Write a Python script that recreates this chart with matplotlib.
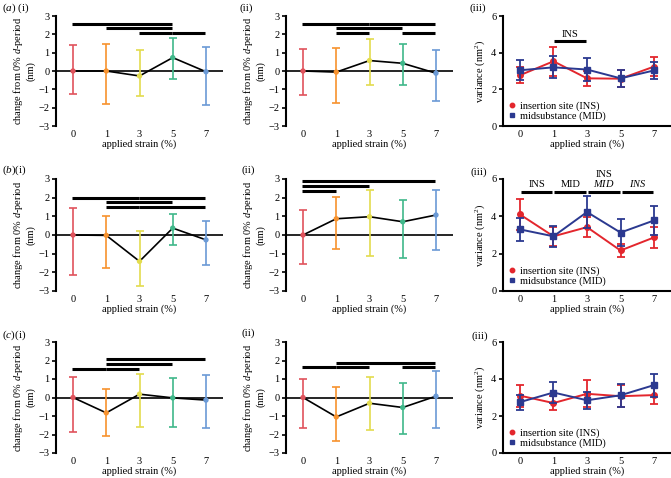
import matplotlib
matplotlib.use("Agg")
import matplotlib.pyplot as plt
from matplotlib.lines import Line2D

plt.rcParams['font.family'] = ['Liberation Serif', 'DejaVu Serif']
plt.rcParams['mathtext.fontset'] = 'custom'
plt.rcParams['mathtext.rm'] = 'Liberation Serif'
plt.rcParams['mathtext.it'] = 'Liberation Serif:italic'

# categories
strain_labels = ["0", "1", "3", "5", "7"]
point_colours = ["#e0535c", "#f7922e", "#e3dc4e", "#3fb88a", "#6b9ad6"]

# (a)(i) change in d-period, with bounds of the error bars
a1_mean = [0.0, 0.0, -0.27, 0.73, -0.04]
a1_low = [-1.25, -1.8, -1.36, -0.45, -1.85]
a1_high = [1.42, 1.45, 1.15, 1.78, 1.33]
a1_bars = [(0, 3, 2.58), (1, 3, 2.33), (2, 3, 2.09), (3, 4, 2.09)]

# (a)(ii)
a2_mean = [0.0, -0.06, 0.57, 0.42, -0.12]
a2_low = [-1.29, -1.72, -0.75, -0.78, -1.63]
a2_high = [1.2, 1.25, 1.77, 1.5, 1.14]
a2_bars = [(0, 2, 2.56), (2, 4, 2.56), (1, 3, 2.32), (1, 2, 2.06), (3, 4, 2.06)]

# (b)(i)
b1_mean = [0.0, -0.02, -1.41, 0.37, -0.26]
b1_low = [-2.16, -1.75, -2.73, -0.56, -1.6]
b1_high = [1.46, 1.01, 0.22, 1.1, 0.74]
b1_bars = [(0, 2, 2.0), (2, 4, 2.0), (1, 3, 1.75), (1, 2, 1.48), (2, 4, 1.48)]

# (b)(ii)
b2_mean = [0.0, 0.87, 0.98, 0.71, 1.07]
b2_low = [-1.54, -0.77, -1.1, -1.22, -0.82]
b2_high = [1.34, 2.06, 2.43, 1.85, 2.39]
b2_bars = [(0, 4, 2.87), (0, 2, 2.64), (0, 1, 2.35)]

# (c)(i)
c1_mean = [0.0, -0.83, 0.18, -0.02, -0.14]
c1_low = [-1.85, -2.06, -1.62, -1.58, -1.67]
c1_high = [1.1, 0.45, 1.27, 1.06, 1.22]
c1_bars = [(1, 4, 2.08), (1, 3, 1.83), (0, 1, 1.56), (1, 2, 1.56)]

# (c)(ii)
c2_mean = [0.0, -1.05, -0.31, -0.54, 0.07]
c2_low = [-1.65, -2.37, -1.74, -1.95, -1.63]
c2_high = [1.01, 0.58, 1.12, 0.8, 1.41]
c2_bars = [(1, 4, 1.88), (0, 1, 1.63), (1, 2, 1.63), (3, 4, 1.63)]

# (iii) variance, insertion site and midsubstance
a3_ins = [2.77, 3.53, 2.6, 2.58, 3.24]
a3_ins_err = [0.43, 0.8, 0.42, 0.45, 0.52]
a3_mid = [3.04, 3.2, 3.08, 2.6, 3.03]
a3_mid_err = [0.55, 0.6, 0.62, 0.45, 0.45]

b3_ins = [4.1, 2.93, 3.42, 2.17, 2.87]
b3_ins_err = [0.85, 0.5, 0.52, 0.37, 0.55]
b3_mid = [3.3, 2.93, 4.23, 3.13, 3.78]
b3_mid_err = [0.6, 0.55, 0.85, 0.72, 0.8]

c3_ins = [3.1, 2.7, 3.2, 3.07, 3.13]
c3_ins_err = [0.6, 0.38, 0.72, 0.6, 0.47]
c3_mid = [2.75, 3.27, 2.85, 3.12, 3.67]
c3_mid_err = [0.4, 0.57, 0.45, 0.62, 0.62]

ins_colour = "#e3262d"
mid_colour = "#2b3990"
FS = 7.5
W, H = 671, 478

fig = plt.figure(figsize=(W / 100, H / 100), dpi=100)


def px_axes(x0, x1, ytop, ybot):
    return fig.add_axes([x0 / W, 1 - ybot / H, (x1 - x0) / W, (ybot - ytop) / H])


def base_style(ax):
    ax.set_xlim(-0.5, 4.5)
    ax.set_xticks(range(len(strain_labels)))
    ax.set_xticklabels(strain_labels)
    ax.tick_params(axis='x', length=0, labelsize=FS, pad=3)
    ax.tick_params(axis='y', length=3, width=1.2, labelsize=FS, pad=2)
    for s in ['top', 'right']:
        ax.spines[s].set_visible(False)
    ax.spines['left'].set_linewidth(1.5)
    ax.set_xlabel("applied strain (%)", fontsize=FS, labelpad=0)


def dperiod_panel(ax, mean, low, high, bars):
    base_style(ax)
    ax.spines['bottom'].set_visible(False)
    ax.set_ylim(-3, 3)
    ax.set_yticks(range(-3, 4))
    ax.set_yticklabels(["\u22123", "\u22122", "\u22121", "0", "1", "2", "3"])
    ax.axhline(0, color='black', lw=1.2, zorder=1)
    x = range(len(mean))
    for i in x:
        ax.errorbar(i, mean[i], yerr=[[mean[i] - low[i]], [high[i] - mean[i]]],
                    fmt='none', ecolor=point_colours[i], elinewidth=1.2,
                    capsize=2.6, capthick=1.2, zorder=2)
    ax.plot(x, mean, color='black', lw=1.2, zorder=3)
    ax.scatter(x, mean, color=point_colours, s=8, zorder=4)
    for i, j, y in bars:
        ax.plot([i - 0.02, j - 0.02], [y, y], color='black', lw=2.2,
                solid_capstyle='butt', clip_on=False, zorder=5)
    ax.set_ylabel("change from 0% $d$-period\n(nm)", fontsize=FS, labelpad=2,
                  linespacing=1.1)


def variance_panel(ax, ins, ins_err, mid, mid_err):
    base_style(ax)
    ax.spines['bottom'].set_linewidth(1.5)
    ax.set_ylim(0, 6)
    ax.set_yticks([0, 2, 4, 6])
    x = range(len(ins))
    ax.errorbar(x, ins, yerr=ins_err, color=ins_colour, marker='o', ms=4,
                lw=1.4, elinewidth=1.3, capsize=2.6, capthick=1.3, zorder=3)
    ax.errorbar(x, mid, yerr=mid_err, color=mid_colour, marker='s', ms=4,
                lw=1.4, elinewidth=1.3, capsize=2.6, capthick=1.3, zorder=4)
    ax.set_ylabel("variance (nm$^2$)", fontsize=FS, labelpad=3)
    handles = [Line2D([], [], color=ins_colour, marker='o', ls='none', ms=3.2),
               Line2D([], [], color=mid_colour, marker='s', ls='none', ms=3.2)]
    ax.legend(handles, ["insertion site (INS)", "midsubstance (MID)"],
              loc='lower left', frameon=False, fontsize=FS, handlelength=0.8,
              handletextpad=0.4, borderaxespad=0.25, borderpad=0.2,
              labelspacing=0.05)


def sig_bar(ax, i, j, y):
    ax.plot([i + 0.03, j - 0.03], [y, y], color='black', lw=2.2,
            solid_capstyle='butt', clip_on=False)


rows = [(16, 126), (179, 291), (342, 453)]
cols = [(56.4, 222.6), (286.4, 452.6), (503.2, 670.8)]

panels = [
    (a1_mean, a1_low, a1_high, a1_bars, a2_mean, a2_low, a2_high, a2_bars,
     a3_ins, a3_ins_err, a3_mid, a3_mid_err),
    (b1_mean, b1_low, b1_high, b1_bars, b2_mean, b2_low, b2_high, b2_bars,
     b3_ins, b3_ins_err, b3_mid, b3_mid_err),
    (c1_mean, c1_low, c1_high, c1_bars, c2_mean, c2_low, c2_high, c2_bars,
     c3_ins, c3_ins_err, c3_mid, c3_mid_err),
]

var_axes = []
for r, p in enumerate(panels):
    ytop, ybot = rows[r]
    ax1 = px_axes(cols[0][0], cols[0][1], ytop, ybot)
    dperiod_panel(ax1, p[0], p[1], p[2], p[3])
    ax2 = px_axes(cols[1][0], cols[1][1], ytop, ybot)
    dperiod_panel(ax2, p[4], p[5], p[6], p[7])
    ax3 = px_axes(cols[2][0], cols[2][1], ytop, ybot)
    variance_panel(ax3, p[8], p[9], p[10], p[11])
    var_axes.append(ax3)

# significance markers in the variance panels
ax = var_axes[0]
sig_bar(ax, 1, 2, 4.62)
ax.text(1.5, 4.75, "INS", ha='center', va='bottom', fontsize=FS)

ax = var_axes[1]
for i in range(4):
    sig_bar(ax, i, i + 1, 5.33)
ax.text(0.5, 5.45, "INS", ha='center', va='bottom', fontsize=FS)
ax.text(1.5, 5.45, "MID", ha='center', va='bottom', fontsize=FS)
ax.text(2.5, 5.45, "$MID$", ha='center', va='bottom', fontsize=FS)
ax.text(2.5, 6.0, "INS", ha='center', va='bottom', fontsize=FS, clip_on=False)
ax.text(3.5, 5.45, "$INS$", ha='center', va='bottom', fontsize=FS)

# panel labels
labels = [
    (2, 8, "($a$) (i)"), (240, 8, "(ii)"), (469, 8, "(iii)"),
    (2, 170, "($b$)(i)"), (242, 170, "(ii)"), (471, 172, "(iii)"),
    (2, 335, "($c$)(i)"), (242, 333, "(ii)"), (472, 336, "(iii)"),
]
for x, y, t in labels:
    fig.text(x / W, 1 - y / H, t, fontsize=8, ha='left', va='center')

fig.savefig("out.png", dpi=100)
